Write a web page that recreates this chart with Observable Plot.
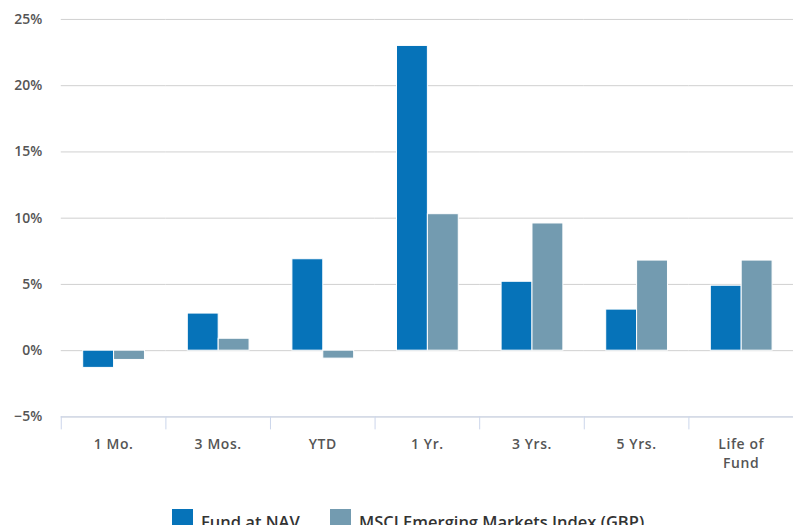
<!DOCTYPE html>
<html><head><meta charset="utf-8">
<script src="https://cdn.jsdelivr.net/npm/d3@7"></script>
<script src="https://cdn.jsdelivr.net/npm/@observablehq/plot@0.6"></script>
<style>
html,body{margin:0;padding:0;background:#fff;overflow:hidden;}
body{width:793px;height:525px;position:relative;font-family:"Open Sans",sans-serif;}
#chart svg{display:block;}
#legend{position:absolute;left:0;top:509px;width:793px;height:30px;}
.item{position:absolute;top:0;display:flex;align-items:flex-start;font-size:16.5px;font-weight:600;color:#333;line-height:20px;white-space:nowrap;}
.sw{width:21px;height:21px;margin-right:8px;}
</style></head><body><div id="chart"></div><div id="legend"></div>
<script>
const periods = ["1 Mo.","3 Mos.","YTD","1 Yr.","3 Yrs.","5 Yrs.","Life of\nFund"];
const seriesNames = ["Fund at NAV","MSCI Emerging Markets Index (GBP)"];
const fundValues = [-1.3, 2.8, 6.9, 23.0, 5.2, 3.1, 4.9];
const indexValues = [-0.7, 0.9, -0.6, 10.3, 9.6, 6.8, 6.8];
const yTicks = [-5, 0, 5, 10, 15, 20, 25];
const colors = ["#0673b9", "#739bb0"];

const data = periods.flatMap((p, i) => [
  {period: p, series: seriesNames[0], value: fundValues[i]},
  {period: p, series: seriesNames[1], value: indexValues[i]}
]);

const chart = Plot.plot({
  width: 796, height: 500,
  marginLeft: 60, marginRight: 0, marginTop: 19, marginBottom: 82,
  style: {fontFamily: "Open Sans", fontSize: "14px", fontWeight: 600, color: "#555", background: "#fff", overflow: "visible"},
  fx: {domain: periods, padding: 0, label: null, axis: null},
  x: {domain: seriesNames, paddingInner: 0, paddingOuter: 0.667, axis: null},
  y: {domain: [-5, 25], ticks: yTicks, tickFormat: d => (d < 0 ? "\u2212" : "") + Math.abs(d) + "%", tickSize: 0, tickPadding: 19, label: null},
  color: {domain: seriesNames, range: colors},
  marks: [
    Plot.gridY(yTicks, {stroke: "#d0d0d0", strokeOpacity: 1}),
    Plot.barY(data, {fx: "period", x: "series", y: "value", fill: "series", stroke: "white", strokeWidth: 1}),
    Plot.ruleY([-5], {stroke: "#ccd6eb", strokeWidth: 1}),
    Plot.axisFx({anchor: "bottom", tickSize: 0, tickPadding: 19, label: null, lineHeight: 1.35, fontSize: 14, fill: "#555"})
  ]
});
document.getElementById("chart").appendChild(chart);
d3.select(chart).selectAll("[aria-label='fx-axis tick label'] text, [aria-label='fx-axis tick label']").style("letter-spacing", "0.6px");

// category boundary ticks below the x axis line, from the plot's own scales
const fx = chart.scale("fx"), ys = chart.scale("y");
const y0 = ys.apply(-5);
const bounds = periods.map(p => fx.apply(p)).concat([fx.apply(periods[periods.length - 1]) + fx.bandwidth]);
d3.select(chart).append("g")
  .selectAll("line").data(bounds).join("line")
  .attr("x1", d => d + 0.5).attr("x2", d => d + 0.5)
  .attr("y1", y0).attr("y2", y0 + 13)
  .attr("stroke", "#ccd6eb");

// legend
const leg = d3.select("#legend");
const lefts = [172, 330];
seriesNames.forEach((s, i) => {
  const it = leg.append("div").attr("class", "item").style("left", lefts[i] + "px");
  it.append("div").attr("class", "sw").style("background", colors[i]);
  it.append("span").text(s).style("margin-top", "3px");
});
</script></body></html>
